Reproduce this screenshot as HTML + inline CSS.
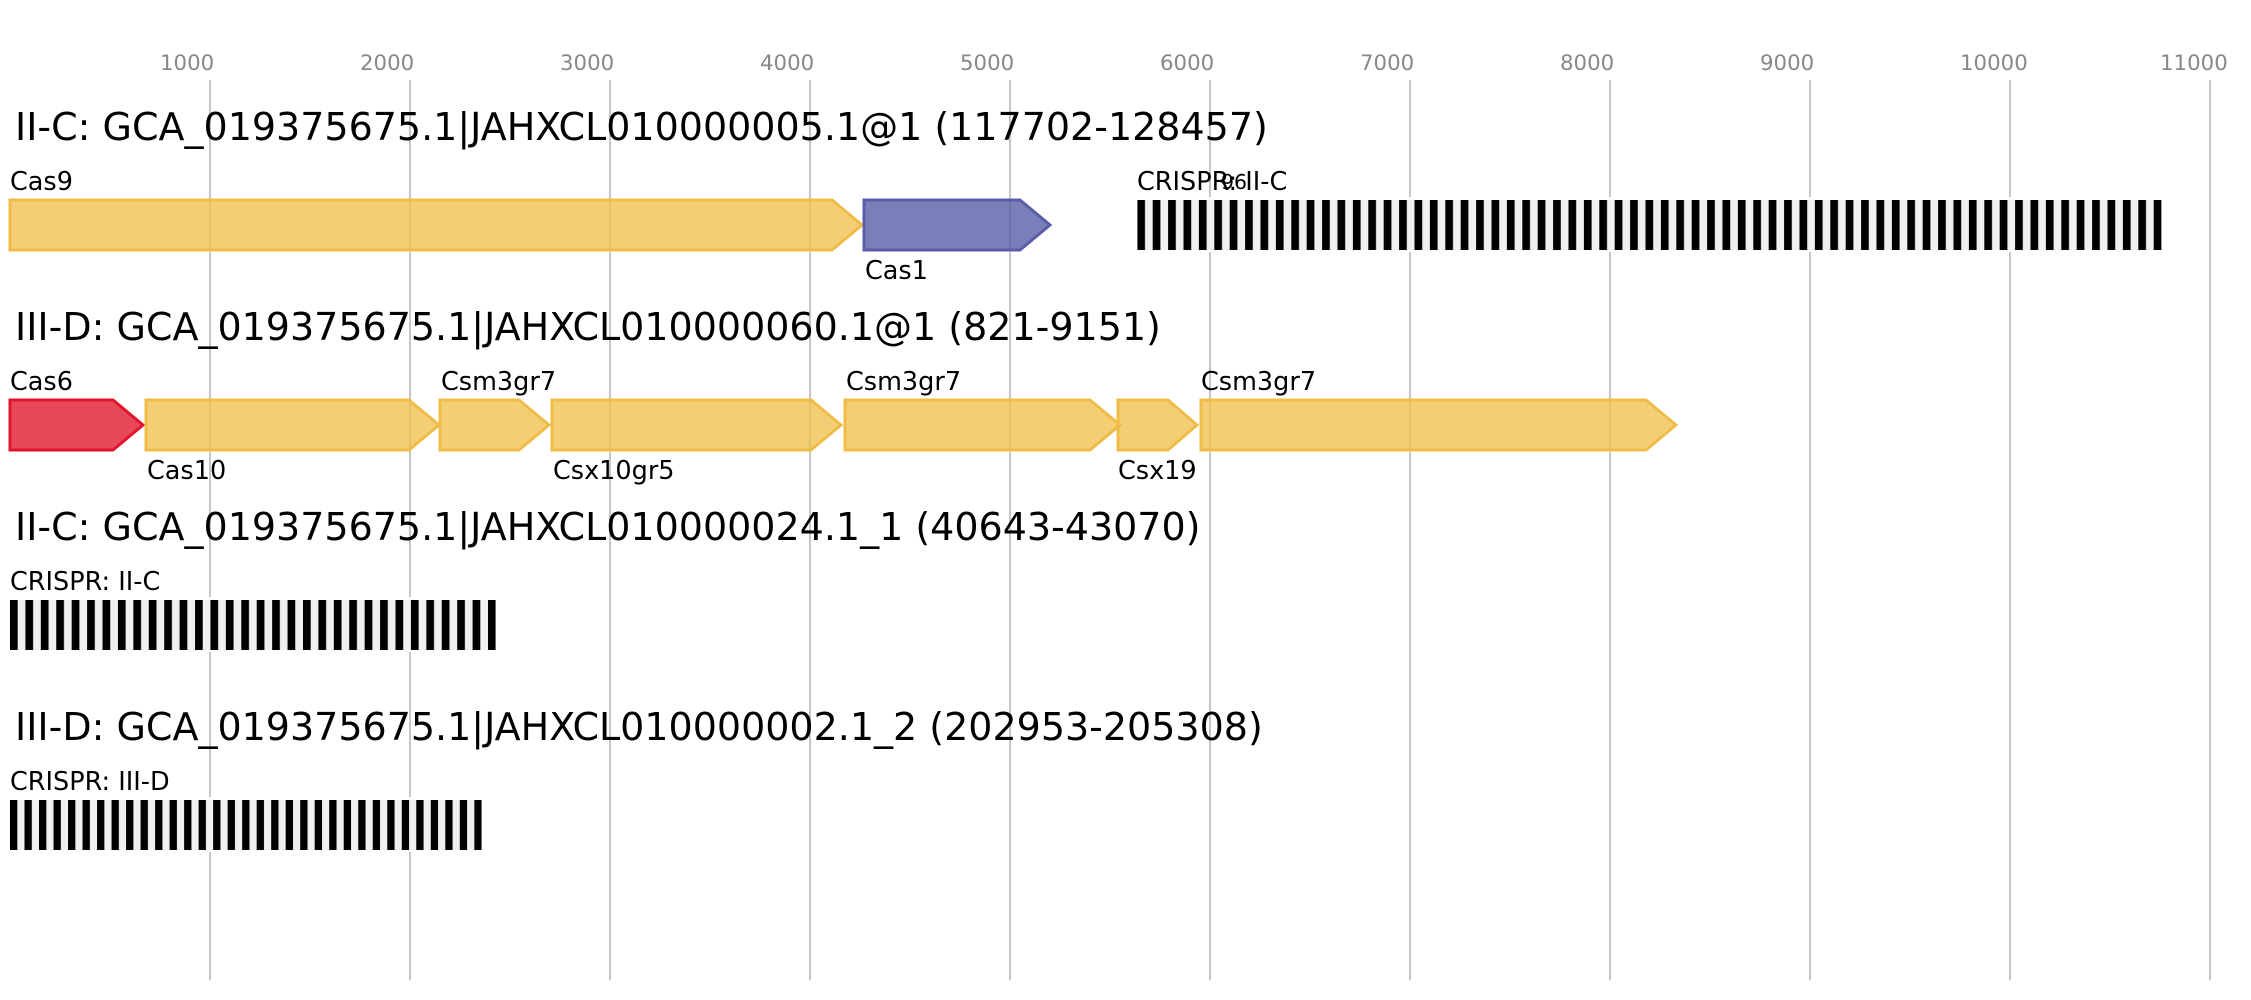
<!DOCTYPE html>
<html>
<head>
<meta charset="utf-8">
<style>
  html, body { margin: 0; padding: 0; background: #ffffff; }
  svg { display: block; }
  text { font-family: "DejaVu Sans", "Liberation Sans", sans-serif; }
  .ax { font-size: 21.3px; fill: #888888; }
  .title { font-size: 38px; fill: #000000; }
  .lbl { font-size: 25.5px; fill: #000000; }
  .grid { stroke: #bfbfbf; stroke-width: 1.8; }
  .y { fill: #efbd47; fill-opacity: 0.75; stroke: #efbd47; stroke-width: 3; }
  .b { fill: #5a5ea7; fill-opacity: 0.8; stroke: #5a5ea7; stroke-width: 3; }
  .r { fill: #e2162b; fill-opacity: 0.78; stroke: #e2162b; stroke-width: 3; }
</style>
</head>
<body>
<svg width="2251" height="1000" viewBox="0 0 2251 1000" xmlns="http://www.w3.org/2000/svg">
  <defs>
    <pattern id="p1" patternUnits="userSpaceOnUse" x="1137.3" y="0" width="15.4" height="1000">
      <rect x="0" y="0" width="15.4" height="1000" fill="#f0f0f0"/>
      <rect x="0" y="0" width="7.7" height="1000" fill="#000000"/>
    </pattern>
    <pattern id="p3" patternUnits="userSpaceOnUse" x="10" y="0" width="15.42" height="1000">
      <rect x="0" y="0" width="15.42" height="1000" fill="#f0f0f0"/>
      <rect x="0" y="0" width="7.7" height="1000" fill="#000000"/>
    </pattern>
    <pattern id="p4" patternUnits="userSpaceOnUse" x="10" y="0" width="14.51" height="1000">
      <rect x="0" y="0" width="14.51" height="1000" fill="#f0f0f0"/>
      <rect x="0" y="0" width="7.3" height="1000" fill="#000000"/>
    </pattern>
  </defs>

  <rect x="0" y="0" width="2251" height="1000" fill="#ffffff"/>

  <!-- axis labels -->
  <text class="ax" x="160" y="70">1000</text>
  <text class="ax" x="360" y="70">2000</text>
  <text class="ax" x="560" y="70">3000</text>
  <text class="ax" x="760" y="70">4000</text>
  <text class="ax" x="960" y="70">5000</text>
  <text class="ax" x="1160" y="70">6000</text>
  <text class="ax" x="1360" y="70">7000</text>
  <text class="ax" x="1560" y="70">8000</text>
  <text class="ax" x="1760" y="70">9000</text>
  <text class="ax" x="1960" y="70">10000</text>
  <text class="ax" x="2160" y="70">11000</text>

  <!-- grid lines -->
  <line class="grid" x1="210" y1="80" x2="210" y2="980"/>
  <line class="grid" x1="410" y1="80" x2="410" y2="980"/>
  <line class="grid" x1="610" y1="80" x2="610" y2="980"/>
  <line class="grid" x1="810" y1="80" x2="810" y2="980"/>
  <line class="grid" x1="1010" y1="80" x2="1010" y2="980"/>
  <line class="grid" x1="1210" y1="80" x2="1210" y2="980"/>
  <line class="grid" x1="1410" y1="80" x2="1410" y2="980"/>
  <line class="grid" x1="1610" y1="80" x2="1610" y2="980"/>
  <line class="grid" x1="1810" y1="80" x2="1810" y2="980"/>
  <line class="grid" x1="2010" y1="80" x2="2010" y2="980"/>
  <line class="grid" x1="2210" y1="80" x2="2210" y2="980"/>

  <!-- Row 1 -->
  <text class="title" x="15" y="140">II-C: GCA_019375675.1|JAHXCL010000005.1@1 (117702-128457)</text>
  <polygon class="y" points="10,200 832,200 862,225 832,250 10,250"/>
  <text class="lbl" x="10" y="190">Cas9</text>
  <polygon class="b" points="864,200 1020,200 1050,225 1020,250 864,250"/>
  <text class="lbl" x="865" y="279">Cas1</text>
  <rect x="1135" y="197" width="1029" height="55" fill="#ffffff"/>
  <rect x="1137.3" y="200" width="1024.4" height="50" fill="url(#p1)"/>
  <text class="lbl" x="1137" y="190">CRISPR: II-C</text>
  <text x="1221" y="189" style="font-size:20.5px; fill:#000;">96</text>

  <!-- Row 2 -->
  <text class="title" x="15" y="340">III-D: GCA_019375675.1|JAHXCL010000060.1@1 (821-9151)</text>
  <polygon class="r" points="10,400 113,400 143,425 113,450 10,450"/>
  <text class="lbl" x="10" y="390">Cas6</text>
  <polygon class="y" points="146,400 409,400 439,425 409,450 146,450"/>
  <text class="lbl" x="147" y="479">Cas10</text>
  <polygon class="y" points="440,400 519,400 549,425 519,450 440,450"/>
  <text class="lbl" x="441" y="390">Csm3gr7</text>
  <polygon class="y" points="552,400 811,400 841,425 811,450 552,450"/>
  <text class="lbl" x="553" y="479">Csx10gr5</text>
  <polygon class="y" points="845,400 1090,400 1120,425 1090,450 845,450"/>
  <text class="lbl" x="846" y="390">Csm3gr7</text>
  <polygon class="y" points="1118,400 1168,400 1197,425 1168,450 1118,450"/>
  <text class="lbl" x="1118" y="479">Csx19</text>
  <polygon class="y" points="1201,400 1646,400 1676,425 1646,450 1201,450"/>
  <text class="lbl" x="1201" y="390">Csm3gr7</text>

  <!-- Row 3 -->
  <text class="title" x="15" y="540">II-C: GCA_019375675.1|JAHXCL010000024.1_1 (40643-43070)</text>
  <text class="lbl" x="10" y="590">CRISPR: II-C</text>
  <rect x="8" y="597" width="490" height="55" fill="#ffffff"/>
  <rect x="10" y="600" width="485.7" height="50" fill="url(#p3)"/>

  <!-- Row 4 -->
  <text class="title" x="15" y="740">III-D: GCA_019375675.1|JAHXCL010000002.1_2 (202953-205308)</text>
  <text class="lbl" x="10" y="790">CRISPR: III-D</text>
  <rect x="8" y="797" width="476" height="55" fill="#ffffff"/>
  <rect x="10" y="800" width="471.7" height="50" fill="url(#p4)"/>
</svg>
</body>
</html>
